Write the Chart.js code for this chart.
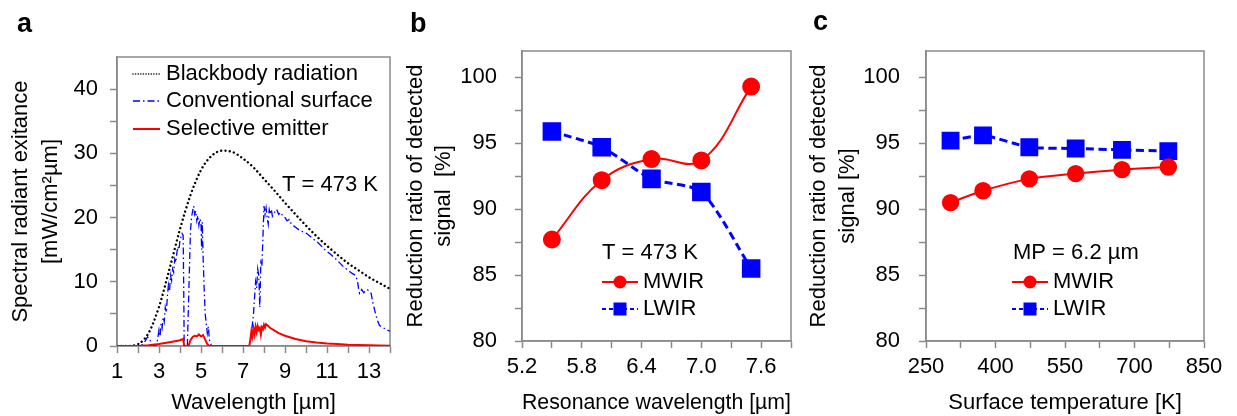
<!DOCTYPE html>
<html>
<head>
<meta charset="utf-8">
<script src="https://cdn.jsdelivr.net/npm/chart.js@4.4.1/dist/chart.umd.min.js"></script>
<style>
  html, body { margin: 0; padding: 0; background: #fff; }
  #wrap { position: relative; width: 1237px; height: 416px; overflow: hidden; }
  canvas { position: absolute; top: 0; }
</style>
</head>
<body>
<div id="wrap">
  <canvas id="chartA" width="400" height="416" style="left:0"></canvas>
  <canvas id="chartB" width="405" height="416" style="left:400px"></canvas>
  <canvas id="chartC" width="432" height="416" style="left:805px"></canvas>
</div>
<script>
// ---- panel a: spectra at T = 473 K ----
const bbWavelength = [1, 1.5, 2, 2.5, 3, 3.5, 4, 4.5, 5, 5.5, 6, 6.5, 7, 7.5, 8, 8.5, 9, 9.5, 10, 10.5, 11, 11.5, 12, 12.5, 13, 13.5, 14];
const bbExitance = [0, 0.01, 0.29, 2.0, 6.1, 12.0, 18.2, 23.5, 27.4, 29.6, 30.4, 30.2, 29.2, 27.8, 26.0, 24.2, 22.3, 20.5, 18.75, 17.1, 15.6, 14.2, 12.9, 11.8, 10.7, 9.8, 8.9];

const convWavelength = [1.0, 2.0, 2.2, 2.35, 2.45, 2.55, 2.65, 2.8, 2.9, 3.0, 3.05, 3.1, 3.15, 3.2, 3.25, 3.3, 3.35, 3.4, 3.45, 3.5,
  3.55, 3.6, 3.65, 3.7, 3.75, 3.8, 3.85, 3.9, 3.95, 4.0, 4.05, 4.1, 4.15, 4.18, 4.2, 4.35, 4.4, 4.45, 4.5, 4.55,
  4.6, 4.65, 4.7, 4.75, 4.8, 4.85, 4.9, 4.95, 5.0, 5.03, 5.06, 5.1, 5.15, 5.2, 5.25, 5.3, 5.35, 5.4, 5.5, 7.3,
  7.4, 7.45, 7.5, 7.55, 7.6, 7.65, 7.7, 7.75, 7.8, 7.85, 7.9, 7.95, 8.0, 8.05, 8.1, 8.15, 8.2, 8.25, 8.3, 8.35,
  8.4, 8.5, 8.6, 8.7, 8.8, 8.9, 9.0, 9.1, 9.2, 9.3, 9.5, 9.7, 10.0, 10.3, 10.6, 10.9, 11.2, 11.5, 11.8, 12.0,
  12.2, 12.35, 12.45, 12.5, 12.55, 12.65, 12.75, 12.9, 13.0, 13.1, 13.2, 13.3, 13.4, 13.5, 13.7, 13.85, 14.0];
const convExitance = [0, 0, 0.2, 0.8, 1.4, 1.2, 0.1, 0, 0.3, 2.5, 1.5, 3.5, 2.8, 4.5, 3.8, 6.0, 5.2, 7.8, 9.5, 8.5,
  11.0, 10.2, 12.0, 11.5, 13.5, 13.0, 14.5, 15.5, 15.0, 16.5, 17.0, 17.5, 17.2, 8.0, 0, 0, 6.0, 12.0, 18.0, 20.0,
  21.0, 21.8, 20.5, 21.0, 19.5, 20.3, 18.8, 19.8, 19.2, 15.0, 19.3, 14.0, 9.0, 5.0, 3.5, 2.0, 3.0, 1.0, 0, 0,
  1.5, 3.5, 5.0, 7.5, 10.0, 9.0, 12.0, 11.0, 6.0, 13.0, 12.5, 17.0, 21.8, 20.5, 21.5, 20.0, 19.0, 21.2, 20.5, 21.3,
  20.2, 20.8, 21.3, 20.5, 20.8, 20.2, 20.0, 19.5, 19.7, 19.0, 18.5, 18.0, 17.6, 16.8, 16.0, 15.0, 14.2, 13.3, 12.3, 11.8,
  11.3, 11.0, 10.2, 9.0, 8.2, 8.8, 8.3, 8.8, 8.6, 8.2, 6.5, 5.2, 4.0, 3.2, 2.8, 2.5, 2.3];

const selWavelength = [1.0, 2.0, 2.5, 3.0, 3.5, 4.0, 4.15, 4.2, 4.4, 4.5, 4.6, 4.7, 4.8, 4.9, 5.0, 5.1, 5.2, 5.3, 5.4, 7.3,
  7.35, 7.4, 7.45, 7.5, 7.55, 7.6, 7.65, 7.7, 7.75, 7.8, 7.85, 7.9, 7.95, 8.0, 8.05, 8.1, 8.2, 8.3, 8.5, 8.7,
  9.0, 9.5, 10.0, 10.5, 11.0, 11.5, 12.0, 13.0, 14.0];
const selExitance = [0, 0, 0.1, 0.3, 0.6, 0.9, 1.1, 0, 0, 0.9, 1.4, 1.6, 1.5, 1.8, 1.5, 1.7, 1.0, 0.3, 0, 0,
  1.0, 2.3, 1.5, 2.7, 1.8, 3.0, 2.2, 3.1, 2.5, 2.8, 1.8, 2.9, 2.6, 3.3, 2.9, 3.4, 3.1, 2.8, 2.4, 2.0,
  1.6, 1.1, 0.75, 0.55, 0.4, 0.3, 0.2, 0.1, 0.05];

// ---- panel b: vs resonance wavelength ----
const resonanceWavelength = [5.5, 6.0, 6.5, 7.0, 7.5];
const mwirByResonance = [87.7, 92.2, 93.8, 93.7, 99.3];
const lwirByResonance = [95.9, 94.7, 92.3, 91.3, 85.5];

// ---- panel c: vs surface temperature ----
const surfaceTemp = [303, 373, 473, 573, 673, 773];
const mwirByTemp = [90.5, 91.4, 92.3, 92.7, 93.0, 93.2];
const lwirByTemp = [95.2, 95.6, 94.7, 94.6, 94.5, 94.4];

const GRAY = '#8a8a8a';
const RED = '#ff0000';
const BLUE = '#0000ff';
const FONT = '"Liberation Sans", Arial, Helvetica, sans-serif';

Chart.defaults.font.family = FONT;
Chart.defaults.font.size = 22;
Chart.defaults.color = '#000';

const toPoints = (xs, ys) => xs.map((x, i) => ({ x: x, y: ys[i] }));

// frame around the plot area, panel letter, notes and the in-plot legend
const panelDecor = {
    id: 'panelDecor',
    beforeDatasetsDraw(chart) {
        const { ctx, chartArea: a } = chart;
        ctx.save();
        ctx.strokeStyle = GRAY;
        ctx.lineWidth = 1.5;
        ctx.strokeRect(a.left, a.top, a.right - a.left, a.bottom - a.top);
        ctx.restore();
    },
    afterDraw(chart, args, opts) {
        const ctx = chart.ctx;
        ctx.save();
        ctx.fillStyle = '#000';
        ctx.textBaseline = 'alphabetic';
        ctx.font = 'bold 27px ' + FONT;
        ctx.fillText(opts.letter, opts.letterX, opts.letterY);

        ctx.font = '22px ' + FONT;
        ctx.textBaseline = 'middle';
        (opts.notes || []).forEach(n => ctx.fillText(n.text, n.x, n.y));

        (opts.rows || []).forEach(r => {
            const ds = chart.data.datasets[r.dataset];
            ctx.save();
            ctx.strokeStyle = ds.borderColor;
            ctx.lineWidth = r.lineWidth || ds.borderWidth;
            ctx.lineCap = ds.borderCapStyle || 'butt';
            ctx.setLineDash(r.dash || ds.borderDash || []);
            ctx.beginPath();
            ctx.moveTo(r.x0, r.y);
            ctx.lineTo(r.x1, r.y);
            ctx.stroke();
            ctx.restore();
            if (r.marker) {
                const mx = (r.x0 + r.x1) / 2;
                ctx.fillStyle = ds.borderColor;
                ctx.beginPath();
                if (r.marker === 'circle') {
                    ctx.arc(mx, r.y, r.size, 0, Math.PI * 2);
                } else {
                    ctx.rect(mx - r.size, r.y - r.size, r.size * 2, r.size * 2);
                }
                ctx.fill();
            }
            ctx.fillStyle = '#000';
            ctx.fillText(ds.label, r.textX, r.y);
        });
        ctx.restore();
    }
};

function axisBase() {
    return {
        type: 'linear',
        border: { display: true, color: GRAY, width: 1.5 },
        grid: { drawOnChartArea: false, drawTicks: true, tickLength: 7, color: GRAY, tickWidth: 1.5 }
    };
}

// Panel a
new Chart(document.getElementById('chartA'), {
    type: 'line',
    data: {
        datasets: [
            {
                label: 'Blackbody radiation',
                data: toPoints(bbWavelength, bbExitance),
                borderColor: '#000000',
                borderWidth: 2.4,
                borderDash: [0.01, 4.3],
                borderCapStyle: 'round',
                cubicInterpolationMode: 'monotone',
                pointRadius: 0,
                order: 2
            },
            {
                label: 'Conventional surface',
                data: toPoints(convWavelength, convExitance),
                borderColor: BLUE,
                borderWidth: 1.3,
                borderDash: [7, 3, 1.5, 3],
                tension: 0,
                pointRadius: 0,
                order: 1
            },
            {
                label: 'Selective emitter',
                data: toPoints(selWavelength, selExitance),
                borderColor: RED,
                borderWidth: 2,
                tension: 0,
                pointRadius: 0,
                order: 0
            }
        ]
    },
    options: {
        responsive: false,
        animation: false,
        layout: { padding: { top: 57, right: 10, left: 0, bottom: 0 } },
        plugins: {
            legend: { display: false },
            tooltip: { enabled: false },
            panelDecor: {
                letter: 'a', letterX: 17, letterY: 32,
                notes: [{ text: 'T = 473 K', x: 282, y: 185 }],
                rows: [
                    { dataset: 0, x0: 133, x1: 160, y: 74, textX: 166, lineWidth: 1.6, dash: [0.01, 2.6] },
                    { dataset: 1, x0: 133, x1: 160, y: 101, textX: 166 },
                    { dataset: 2, x0: 133, x1: 160, y: 129, textX: 166 }
                ]
            }
        },
        scales: {
            x: {
                ...axisBase(),
                min: 1,
                max: 14,
                ticks: {
                    stepSize: 1, padding: 6, maxRotation: 0, autoSkip: false,
                    callback: v => (v % 2 === 1 ? String(v) : '')
                },
                title: { display: true, text: 'Wavelength [µm]', padding: { top: 0, bottom: 0 } },
                afterFit: s => { s.height = 70; }
            },
            y: {
                ...axisBase(),
                min: 0,
                max: 45,
                afterBuildTicks: s => { s.ticks = s.ticks.filter(t => t.value < 45); },
                ticks: { stepSize: 5, padding: 12, callback: v => (v % 10 === 0 ? String(v) : '') },
                title: {
                    display: true,
                    text: ['Spectral radiant exitance', '[mW/cm²µm]'],
                    font: { lineHeight: 1.35 },
                    padding: { top: 6, bottom: 0 }
                },
                afterFit: s => { s.width = 117; }
            }
        }
    },
    plugins: [panelDecor]
});

function ratioChart(canvasId, xs, mwir, lwir, cfg) {
    return new Chart(document.getElementById(canvasId), {
        type: 'line',
        data: {
            datasets: [
                {
                    label: 'MWIR',
                    data: toPoints(xs, mwir),
                    borderColor: RED,
                    backgroundColor: RED,
                    borderWidth: 2,
                    tension: cfg.mwirTension,
                    pointStyle: 'circle',
                    pointRadius: cfg.circleRadius,
                    pointBackgroundColor: RED,
                    pointBorderColor: RED
                },
                {
                    label: 'LWIR',
                    data: toPoints(xs, lwir),
                    borderColor: BLUE,
                    backgroundColor: BLUE,
                    borderWidth: 3,
                    borderDash: [8, 4.5],
                    tension: cfg.lwirTension,
                    pointStyle: 'rect',
                    pointRadius: cfg.squareRadius,
                    pointBackgroundColor: BLUE,
                    pointBorderColor: BLUE
                }
            ]
        },
        options: {
            responsive: false,
            animation: false,
            layout: { padding: { top: 51, right: cfg.padRight, left: 0, bottom: 0 } },
            plugins: {
                legend: { display: false },
                tooltip: { enabled: false },
                panelDecor: cfg.decor
            },
            scales: {
                x: {
                    ...axisBase(),
                    min: cfg.xMin,
                    max: cfg.xMax,
                    ticks: {
                        stepSize: cfg.xStep, padding: 6, maxRotation: 0, autoSkip: false,
                        callback: (v, i) => (i % 2 === 0 ? cfg.xFormat(v) : '')
                    },
                    title: { display: true, text: cfg.xTitle, padding: { top: 0, bottom: 0 } },
                    afterFit: s => { s.height = 75; }
                },
                y: {
                    ...axisBase(),
                    min: 80,
                    max: 102,
                    afterBuildTicks: s => { s.ticks = s.ticks.filter(t => t.value <= 100); },
                    ticks: { stepSize: 2.5, padding: cfg.yPad, callback: v => (v % 5 === 0 ? String(v) : '') },
                    title: {
                        display: true,
                        text: cfg.yTitle,
                        font: { lineHeight: cfg.yTitleLineHeight },
                        padding: { top: cfg.yTitlePad, bottom: 0 }
                    },
                    afterFit: s => { s.width = cfg.yWidth; }
                }
            }
        },
        plugins: [panelDecor]
    });
}

// Panel b
ratioChart('chartB', resonanceWavelength, mwirByResonance, lwirByResonance, {
    xMin: 5.2, xMax: 7.9, xStep: 0.3,
    xFormat: v => v.toFixed(1),
    xTitle: 'Resonance wavelength [µm]',
    yTitle: ['Reduction ratio of detected', 'signal  [%]'],
    yTitleLineHeight: 1.27, yTitlePad: 2,
    yWidth: 122, yPad: 18, padRight: 13,
    mwirTension: 0.4, lwirTension: 0.25,
    circleRadius: 8, squareRadius: 11,
    decor: {
        letter: 'b', letterX: 10, letterY: 32,
        notes: [{ text: 'T = 473 K', x: 202, y: 253 }],
        rows: [
            { dataset: 0, x0: 202, x1: 238, y: 282, textX: 243, marker: 'circle', size: 6.5 },
            { dataset: 1, x0: 202, x1: 238, y: 309, textX: 243, marker: 'rect', size: 6.5, dash: [4, 3], lineWidth: 2 }
        ]
    }
});

// Panel c
ratioChart('chartC', surfaceTemp, mwirByTemp, lwirByTemp, {
    xMin: 250, xMax: 850, xStep: 75,
    xFormat: v => String(v),
    xTitle: 'Surface temperature [K]',
    yTitle: ['Reduction ratio of detected', 'signal [%]'],
    yTitleLineHeight: 1.3, yTitlePad: 0,
    yWidth: 121, yPad: 19, padRight: 33,
    mwirTension: 0.3, lwirTension: 0.2,
    circleRadius: 7.7, squareRadius: 10.5,
    decor: {
        letter: 'c', letterX: 8, letterY: 30,
        notes: [{ text: 'MP = 6.2 µm', x: 208, y: 253 }],
        rows: [
            { dataset: 0, x0: 207, x1: 243, y: 282, textX: 248, marker: 'circle', size: 6.5 },
            { dataset: 1, x0: 207, x1: 243, y: 309, textX: 248, marker: 'rect', size: 6.5, dash: [4, 3], lineWidth: 2 }
        ]
    }
});
</script>
</body>
</html>
